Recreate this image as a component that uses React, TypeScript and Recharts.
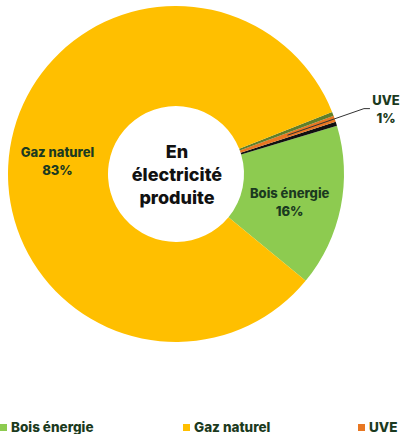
import React from "react";
import { PieChart, Pie, Cell, Legend } from "recharts";

const categories = ["Bois énergie", "Autre 1", "UVE", "Autre 2", "Gaz naturel"];
const values = [15.6, 0.4, 0.6, 0.4, 83.0];
const labelTexts = ["16%", "", "1%", "", "83%"];
const colors = ["#8DCB50", "#111111", "#E87722", "#5F7F2A", "#FFBF00"];
const legendNames = ["Bois énergie", "Gaz naturel", "UVE"];
const legendColors = ["#8DCB50", "#FFBF00", "#E87722"];
const centerLines = ["En", "électricité", "produite"];

const data = categories.map((name, i) => ({ name, value: values[i], pct: labelTexts[i] }));

const FONT = "Inter, 'Open Sans', sans-serif";
const TEXT_COLOR = "#1B3A20";
const RAD = Math.PI / 180;

const renderLabel = (props: any) => {
  const { cx, cy, midAngle, innerRadius, outerRadius, index } = props;
  const name = categories[index];
  const pct = labelTexts[index];
  if (!pct) return null;
  const rMid = (innerRadius + outerRadius) / 2;
  const cos = Math.cos(-midAngle * RAD);
  const sin = Math.sin(-midAngle * RAD);
  if (name === "UVE") {
    const sx = cx + rMid * cos;
    const sy = cy + rMid * sin;
    const ex = cx + (outerRadius + 31) * cos;
    const ey = cy + (outerRadius + 31) * sin;
    return (
      <g>
        <polyline
          points={`${sx},${sy} ${ex},${ey} ${ex + 6},${ey}`}
          fill="none"
          stroke="#333"
          strokeWidth={1}
        />
        <text x={ex + 22} y={ey - 4} textAnchor="middle" fill={TEXT_COLOR} fontFamily={FONT} fontWeight={800} fontSize={13}>
          {name}
        </text>
        <text x={ex + 22} y={ey + 14} textAnchor="middle" fill={TEXT_COLOR} fontFamily={FONT} fontWeight={800} fontSize={13}>
          {pct}
        </text>
      </g>
    );
  }
  const x = cx + rMid * cos;
  const y = cy + rMid * sin;
  return (
    <g>
      <text x={x - 2} y={y + 1} textAnchor="middle" fill={TEXT_COLOR} fontFamily={FONT} fontWeight={800} fontSize={13}>
        {name}
      </text>
      <text x={x - 2} y={y + 19} textAnchor="middle" fill={TEXT_COLOR} fontFamily={FONT} fontWeight={800} fontSize={13}>
        {pct}
      </text>
    </g>
  );
};

const legendX = [0, 183, 358];

const renderLegend = () => (
  <div style={{ position: "relative", width: 402, height: 20 }}>
    {legendNames.map((n, i) => (
      <div
        key={n}
        style={{
          position: "absolute",
          left: legendX[i],
          top: 0,
          display: "flex",
          alignItems: "center",
          fontFamily: FONT,
          fontWeight: 800,
          fontSize: 13.5,
          color: TEXT_COLOR,
          whiteSpace: "nowrap",
        }}
      >
        <span style={{ display: "inline-block", width: 7, height: 7, background: legendColors[i], marginRight: 4 }} />
        {n}
      </div>
    ))}
  </div>
);

export default function App() {
  return (
    <div style={{ position: "absolute", left: 0, top: 0, width: 402, height: 434, background: "#fff" }}>
      <PieChart width={402} height={434} margin={{ top: 0, right: 0, bottom: 0, left: 0 }}>
        <Pie
          data={data}
          dataKey="value"
          nameKey="name"
          cx={176}
          cy={174}
          innerRadius={68}
          outerRadius={168}
          startAngle={-39.5}
          endAngle={320.5}
          stroke="none"
          label={renderLabel}
          labelLine={false}
          isAnimationActive={false}
        >
          {data.map((d, i) => (
            <Cell key={d.name} fill={colors[i]} />
          ))}
        </Pie>
        <Legend
          content={renderLegend}
          verticalAlign="bottom"
          wrapperStyle={{ left: 0, top: 419, width: 402 }}
        />
        <text x={177} y={158} textAnchor="middle" fontFamily={FONT} fontWeight={800} fontSize={18} fill="#111">
          {centerLines[0]}
        </text>
        <text x={177} y={181} textAnchor="middle" fontFamily={FONT} fontWeight={800} fontSize={18} fill="#111">
          {centerLines[1]}
        </text>
        <text x={177} y={204} textAnchor="middle" fontFamily={FONT} fontWeight={800} fontSize={18} fill="#111">
          {centerLines[2]}
        </text>
      </PieChart>
    </div>
  );
}
